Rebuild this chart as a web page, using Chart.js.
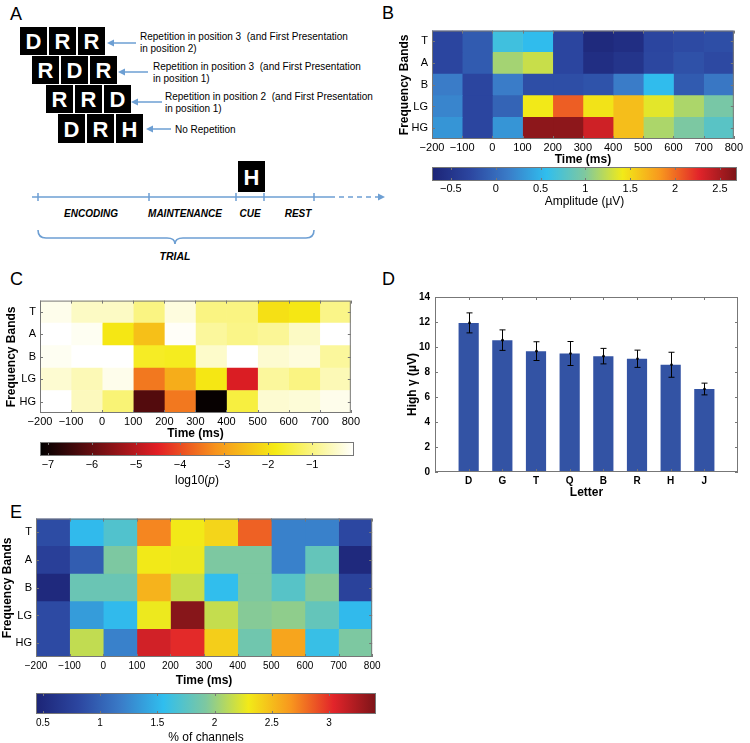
<!DOCTYPE html>
<html>
<head>
<meta charset="utf-8">
<script src="https://cdn.jsdelivr.net/npm/chart.js@4.4.1/dist/chart.umd.min.js"></script>
<style>
  body { margin: 0; background: #fff; width: 750px; height: 743px; position: relative; overflow: hidden;
         font-family: 'Liberation Sans', Arial, sans-serif; }
  canvas { position: absolute; }
  svg text { white-space: pre; }
  .plbl { position: absolute; font-size: 18px; line-height: 18px; }
  .cbt { position: absolute; font-size: 12px; text-align: center; }
</style>
</head>
<body>

<!-- panel A: task diagram -->
<svg width="390" height="268" style="position:absolute;left:0;top:0" font-family="'Liberation Sans', Arial, sans-serif">
  <g fill="#000">
    <rect x="20" y="27" width="27" height="28"/><rect x="49" y="27" width="27" height="28"/><rect x="78" y="27" width="27" height="28"/>
    <rect x="32" y="56" width="27" height="28"/><rect x="61" y="56" width="27" height="28"/><rect x="90" y="56" width="27" height="28"/>
    <rect x="46" y="85" width="27" height="28"/><rect x="75" y="85" width="27" height="28"/><rect x="104" y="85" width="27" height="28"/>
    <rect x="58" y="114" width="27" height="29"/><rect x="87" y="114" width="27" height="29"/><rect x="116" y="114" width="27" height="29"/>
    <rect x="238" y="161" width="27" height="31"/>
  </g>
  <g fill="#fff" font-weight="bold" font-size="22" text-anchor="middle">
    <text x="33.5" y="49">D</text><text x="62.5" y="49">R</text><text x="91.5" y="49">R</text>
    <text x="45.5" y="78">R</text><text x="74.5" y="78">D</text><text x="103.5" y="78">R</text>
    <text x="59.5" y="107">R</text><text x="88.5" y="107">R</text><text x="117.5" y="107">D</text>
    <text x="71.5" y="136.5">D</text><text x="100.5" y="136.5">R</text><text x="129.5" y="136.5">H</text>
    <text x="251.5" y="184.5">H</text>
  </g>
  <g stroke="#6d9fd3" stroke-width="1.5" fill="none">
    <line x1="136" y1="43" x2="109" y2="43"/>
    <line x1="148" y1="72" x2="120" y2="72"/>
    <line x1="162" y1="102" x2="133" y2="102"/>
    <line x1="171" y1="129" x2="148" y2="129"/>
    <line x1="32" y1="197" x2="330" y2="197"/>
    <line x1="330" y1="197" x2="380" y2="197" stroke-dasharray="5,4"/>
    <path d="M38,193V201M149,193V201M236,193V201M264,193V201M314,193V201"/>
    <path d="M38,230 Q38,238 46,238 L167,238 Q175,238 175,244 Q175,238 183,238 L306,238 Q314,238 314,230" stroke-width="1.6"/>
  </g>
  <g fill="#6d9fd3">
    <path d="M107,43 l7,-3.5 v7z"/>
    <path d="M118,72 l7,-3.5 v7z"/>
    <path d="M131,102 l7,-3.5 v7z"/>
    <path d="M146,129 l7,-3.5 v7z"/>
    <path d="M385,197 l-7,-3.5 v7z"/>
  </g>
  <g font-size="10" fill="#000">
    <text x="140" y="40">Repetition in position 3  (and First Presentation</text>
    <text x="140" y="52">in position 2)</text>
    <text x="153" y="70">Repetition in position 3  (and First Presentation</text>
    <text x="153" y="82">in position 1)</text>
    <text x="165" y="100">Repetition in position 2  (and First Presentation</text>
    <text x="165" y="112">in position 1)</text>
    <text x="175" y="133">No Repetition</text>
  </g>
  <g font-size="10" font-weight="bold" font-style="italic" text-anchor="middle" fill="#000">
    <text x="91" y="217">ENCODING</text>
    <text x="185" y="217">MAINTENANCE</text>
    <text x="250" y="217">CUE</text>
    <text x="298" y="217">REST</text>
    <text x="175" y="260" font-size="10.5">TRIAL</text>
  </g>
</svg>

<div class="plbl" style="left:10px;top:5px">A</div>
<div class="plbl" style="left:382px;top:3.5px">B</div>
<div class="plbl" style="left:10px;top:269.5px">C</div>
<div class="plbl" style="left:382px;top:269.5px">D</div>
<div class="plbl" style="left:10px;top:502.5px">E</div>

<canvas id="bHeat" width="360" height="147" style="left:385px;top:20px"></canvas>
<canvas id="bBar" width="360" height="46" style="left:385px;top:163px"></canvas>
<canvas id="cHeat" width="362" height="151" style="left:0px;top:290px"></canvas>
<canvas id="cBar" width="362" height="36" style="left:0px;top:438px"></canvas>
<div class="cbt" style="left:40px;width:314px;top:473px">log10(<i>p</i>)</div>
<canvas id="dBars" width="360" height="215" style="left:385px;top:285px"></canvas>
<canvas id="eHeat" width="384" height="180" style="left:0px;top:508px"></canvas>
<canvas id="eBar" width="384" height="57" style="left:0px;top:688px"></canvas>

<script>
Chart.defaults.font.family = "'Liberation Sans', Arial, sans-serif";
Chart.defaults.color = '#000';

// shared axes of the three heat maps
const BANDS = ['T', 'A', 'B', 'LG', 'HG'];
const TIME_EDGES = [-200, -100, 0, 100, 200, 300, 400, 500, 600, 700, 800];

// B: amplitude (µV), one row per band, one value per 100 ms bin
const AMP_T  = [-0.30, -0.12, 0.65, 0.55, -0.30, -0.64, -0.58, -0.30, -0.25, -0.22];
const AMP_A  = [-0.30, -0.12, 1.13, 1.26, -0.30, -0.58, -0.50, -0.28, -0.20, -0.26];
const AMP_B  = [0.14, -0.30, 0.14, -0.22, -0.22, -0.18, 0.14, 0.55, -0.12, 0.10];
const AMP_LG = [0.20, -0.30, -0.05, 1.42, 2.05, 1.45, 1.64, 1.36, 1.16, 0.96];
const AMP_HG = [0.30, -0.30, 0.30, 2.62, 2.62, 2.35, 1.64, 1.16, 0.98, 0.79];
const AMP_RANGE = [-0.71, 2.69];
const AMP_TICKS = [-0.5, 0, 0.5, 1, 1.5, 2, 2.5];

// C: log10(p)
const LOGP_T  = [-0.20, -0.50, -0.50, -1.00, -0.30, -1.00, -1.00, -2.00, -1.90, -0.95];
const LOGP_A  = [-0.03, -0.15, -1.90, -2.50, -0.10, -0.80, -0.95, -0.85, -0.50, -0.03];
const LOGP_B  = [-0.15, -0.03, -0.03, -1.70, -1.75, -0.45, -0.03, -0.40, -0.30, -0.80];
const LOGP_LG = [-0.40, -0.60, -0.20, -3.50, -2.80, -1.90, -4.60, -0.80, -1.00, -0.60];
const LOGP_HG = [-0.03, -0.55, -1.10, -6.20, -3.50, -7.10, -1.50, -0.40, -0.35, -0.20];
const LOGP_RANGE = [-7.18, -0.05];
const LOGP_TICKS = [-7, -6, -5, -4, -3, -2, -1];

// D: high gamma per letter
const LETTERS = ['D', 'G', 'T', 'Q', 'B', 'R', 'H', 'J'];
const HIGH_GAMMA = [11.93, 10.55, 9.67, 9.48, 9.27, 9.06, 8.58, 6.64];
const HIGH_GAMMA_ERR = [0.80, 0.82, 0.75, 0.96, 0.62, 0.69, 1.00, 0.47];
const GAMMA_TICKS = [0, 2, 4, 6, 8, 10, 12, 14];

// E: % of channels
const PCT_T  = [0.85, 1.53, 1.71, 2.72, 2.30, 2.39, 2.84, 1.21, 1.21, 0.82];
const PCT_A  = [0.74, 0.97, 1.92, 2.30, 2.28, 1.92, 1.92, 1.21, 1.80, 0.50];
const PCT_B  = [0.50, 1.83, 1.83, 2.54, 2.16, 1.56, 1.92, 1.74, 1.95, 0.77];
const PCT_LG = [0.84, 1.36, 1.53, 2.28, 3.37, 2.15, 1.95, 1.98, 1.80, 1.53];
const PCT_HG = [0.84, 2.14, 1.21, 3.10, 3.02, 2.42, 1.86, 2.60, 1.59, 1.92];
const PCT_RANGE = [0.44, 3.41];
const PCT_TICKS = [0.5, 1, 1.5, 2, 2.5, 3];

// colour maps (jet and hot, toned like the print)
const JET = [
  [0.000, [28, 36, 118]], [0.125, [44, 70, 160]], [0.250, [58, 124, 200]],
  [0.375, [48, 190, 238]], [0.500, [126, 200, 160]], [0.625, [242, 234, 24]],
  [0.750, [248, 150, 30]], [0.875, [226, 36, 42]], [1.000, [124, 20, 24]],
];
const HOT = [
  [0.000, [0, 0, 0]], [0.375, [226, 30, 36]], [0.560, [247, 148, 29]],
  [0.750, [245, 235, 20]], [1.000, [255, 255, 255]],
];

function colorAt(stops, t) {
  t = Math.max(0, Math.min(1, t));
  for (let i = 1; i < stops.length; i++) {
    if (t <= stops[i][0]) {
      const [t0, c0] = stops[i - 1], [t1, c1] = stops[i];
      const f = (t - t0) / (t1 - t0);
      return `rgb(${c0.map((c, k) => Math.round(c + (c1[k] - c) * f)).join(',')})`;
    }
  }
  return `rgb(${stops[stops.length - 1][1].join(',')})`;
}

const minus = v => (v < 0 ? '\u2212' + (-v) : String(v));
const noGrid = { display: false, drawTicks: false };

// box round the plot area with short inward ticks, the way MATLAB draws axes
const frame = {
  id: 'frame',
  afterDatasetsDraw(chart, args, opts) {
    const { ctx, chartArea: a, scales } = chart;
    const L = opts.tick ?? 3;
    ctx.save();
    ctx.strokeStyle = opts.color || '#777';
    ctx.lineWidth = 1;
    ctx.strokeRect(a.left + 0.5, a.top + 0.5, a.right - a.left - 1, a.bottom - a.top - 1);
    ctx.beginPath();
    if (opts.x) {
      scales.x.ticks.forEach(t => {
        const px = Math.round(scales.x.getPixelForValue(t.value)) + 0.5;
        ctx.moveTo(px, a.bottom); ctx.lineTo(px, a.bottom - L);
        ctx.moveTo(px, a.top); ctx.lineTo(px, a.top + L);
      });
    }
    if (opts.y) {
      scales.y.ticks.forEach((t, i) => {
        const py = Math.round(opts.y === 'cat' ? scales.y.getPixelForTick(i) : scales.y.getPixelForValue(t.value)) + 0.5;
        ctx.moveTo(a.left, py); ctx.lineTo(a.left + L, py);
        ctx.moveTo(a.right, py); ctx.lineTo(a.right - L, py);
      });
    }
    ctx.stroke();
    ctx.restore();
  }
};

function heatmap(id, rows, stops, range, o) {
  const datasets = TIME_EDGES.slice(0, -1).map((t0, j) => ({
    data: rows.map(() => [t0, TIME_EDGES[j + 1]]),
    backgroundColor: rows.map(r => colorAt(stops, (r[j] - range[0]) / (range[1] - range[0]))),
    grouped: false, barPercentage: 1, categoryPercentage: 1, borderWidth: 0,
  }));
  return new Chart(document.getElementById(id), {
    type: 'bar',
    data: { labels: BANDS, datasets },
    plugins: [frame],
    options: {
      indexAxis: 'y', responsive: false, animation: false,
      layout: { padding: { top: o.top, right: 8, left: 0, bottom: 0 } },
      plugins: { legend: { display: false }, tooltip: { enabled: false }, frame: { x: true, y: 'cat' } },
      scales: {
        x: {
          type: 'linear', min: -200, max: 800,
          grid: noGrid, border: { display: false },
          afterBuildTicks: s => { s.ticks = TIME_EDGES.map(v => ({ value: v })); },
          afterFit: s => { s.height = o.xh; },
          ticks: { font: { size: o.tickSize }, padding: o.tickPad, maxRotation: 0, autoSkip: false, callback: minus },
          title: { display: true, text: 'Time (ms)', font: { size: 12, weight: 'bold' }, padding: 0 },
        },
        y: {
          grid: noGrid, border: { display: false },
          afterFit: s => { s.width = o.yw; },
          ticks: { font: { size: 11 }, padding: 4 },
          title: { display: true, text: 'Frequency Bands', font: { size: 12, weight: 'bold' }, padding: { top: o.yTitle, bottom: 0 } },
        },
      },
    },
  });
}

function colorbar(id, stops, range, ticks, o) {
  return new Chart(document.getElementById(id), {
    type: 'bar',
    data: {
      labels: [''],
      datasets: [{
        data: [range], grouped: false, barPercentage: 1, categoryPercentage: 1, borderWidth: 0,
        backgroundColor: c => {
          const a = c.chart.chartArea;
          if (!a) return null;
          const g = c.chart.ctx.createLinearGradient(a.left, 0, a.right, 0);
          stops.forEach(([t, rgb]) => g.addColorStop(t, `rgb(${rgb.join(',')})`));
          return g;
        },
      }],
    },
    plugins: [frame],
    options: {
      indexAxis: 'y', responsive: false, animation: false,
      layout: { padding: { top: o.top, right: 8, left: o.left, bottom: 0 } },
      plugins: { legend: { display: false }, tooltip: { enabled: false }, frame: { x: true, tick: 3 } },
      scales: {
        x: {
          type: 'linear', min: range[0], max: range[1],
          grid: noGrid, border: { display: false },
          afterBuildTicks: s => { s.ticks = ticks.map(v => ({ value: v })); },
          afterFit: s => { s.height = o.xh; },
          ticks: { font: { size: o.tickSize }, padding: o.tickPad, maxRotation: 0, autoSkip: false, callback: minus },
          title: { display: !!o.title, text: o.title, font: { size: 12 }, padding: 0 },
        },
        y: { display: false },
      },
    },
  });
}

heatmap('bHeat', [AMP_T, AMP_A, AMP_B, AMP_LG, AMP_HG], JET, AMP_RANGE,
  { top: 7, xh: 28, yw: 47, yTitle: 12.8, tickSize: 11, tickPad: 2 });
colorbar('bBar', JET, AMP_RANGE, AMP_TICKS,
  { top: 4, left: 47, xh: 28, tickSize: 11, tickPad: 1.5, title: 'Amplitude (\u00b5V)' });

heatmap('cHeat', [LOGP_T, LOGP_A, LOGP_B, LOGP_LG, LOGP_HG], HOT, LOGP_RANGE,
  { top: 8, xh: 28, yw: 40, yTitle: 4.8, tickSize: 11, tickPad: 2 });
colorbar('cBar', HOT, LOGP_RANGE, LOGP_TICKS,
  { top: 4, left: 40, xh: 18, tickSize: 11, tickPad: 2 });

heatmap('eHeat', [PCT_T, PCT_A, PCT_B, PCT_LG, PCT_HG], JET, PCT_RANGE,
  { top: 8, xh: 31, yw: 36, yTitle: 0.8, tickSize: 10, tickPad: 3.5 });
colorbar('eBar', JET, PCT_RANGE, PCT_TICKS,
  { top: 5, left: 36, xh: 31, tickSize: 10, tickPad: 3, title: '% of channels' });

// D: bars with error bars
const errorBars = {
  id: 'errorBars',
  afterDatasetsDraw(chart) {
    const { ctx, scales: { x, y } } = chart;
    ctx.save();
    ctx.strokeStyle = '#000';
    ctx.fillStyle = '#000';
    ctx.lineWidth = 1;
    HIGH_GAMMA.forEach((v, i) => {
      const px = Math.round(x.getPixelForValue(i + 1)) + 0.5;
      const top = y.getPixelForValue(v + HIGH_GAMMA_ERR[i]);
      const bot = y.getPixelForValue(v - HIGH_GAMMA_ERR[i]);
      ctx.beginPath();
      ctx.moveTo(px, top); ctx.lineTo(px, bot);
      ctx.moveTo(px - 3, top); ctx.lineTo(px + 3, top);
      ctx.moveTo(px - 3, bot); ctx.lineTo(px + 3, bot);
      ctx.stroke();
      ctx.beginPath();
      ctx.arc(px, y.getPixelForValue(v), 1.3, 0, Math.PI * 2);
      ctx.fill();
    });
    ctx.restore();
  }
};

new Chart(document.getElementById('dBars'), {
  type: 'bar',
  data: {
    datasets: [{
      data: HIGH_GAMMA.map((v, i) => ({ x: i + 1, y: v })),
      backgroundColor: '#3353a4', borderWidth: 0,
      barPercentage: 0.6, categoryPercentage: 1,
    }],
  },
  plugins: [frame, errorBars],
  options: {
    responsive: false, animation: false,
    layout: { padding: { top: 12, right: 7, left: 0, bottom: 0 } },
    plugins: { legend: { display: false }, tooltip: { enabled: false }, frame: { x: true, y: true, color: '#777' } },
    scales: {
      x: {
        type: 'linear', min: 0, max: 9, offset: false,
        grid: noGrid, border: { display: false },
        afterBuildTicks: s => { s.ticks = LETTERS.map((l, i) => ({ value: i + 1 })); },
        afterFit: s => { s.height = 28; },
        ticks: { font: { size: 10, weight: 'bold' }, padding: 3, maxRotation: 0, autoSkip: false,
                 callback: v => LETTERS[v - 1] },
        title: { display: true, text: 'Letter', font: { size: 12, weight: 'bold' }, padding: 0 },
      },
      y: {
        min: 0, max: 14,
        grid: noGrid, border: { display: false },
        afterBuildTicks: s => { s.ticks = GAMMA_TICKS.map(v => ({ value: v })); },
        afterFit: s => { s.width = 50; },
        ticks: { font: { size: 10, weight: 'bold' }, padding: 5 },
        title: { display: true, text: 'High \u03b3 (\u00b5V)', font: { size: 12, weight: 'bold' }, padding: { top: 20, bottom: 0 } },
      },
    },
  },
});
</script>
</body>
</html>
